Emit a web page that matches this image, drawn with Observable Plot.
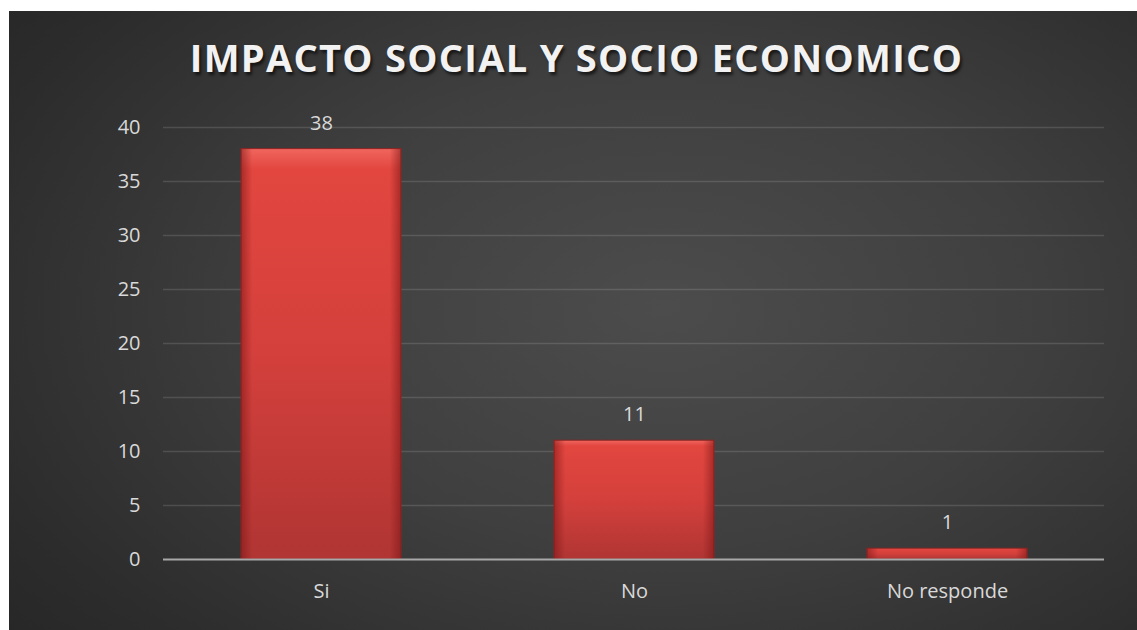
<!DOCTYPE html>
<html><head><meta charset="utf-8">
<script src="https://cdn.jsdelivr.net/npm/d3@7"></script>
<script src="https://cdn.jsdelivr.net/npm/@observablehq/plot@0.6"></script>
<style>
html,body{margin:0;padding:0;background:#fff;width:1137px;height:630px;overflow:hidden}
#frame{position:absolute;left:9px;top:11px;width:1128px;height:619px;
  background:radial-gradient(ellipse 75% 85% at 58% 48%, #4c4c4c 0%, #3f3f3f 45%, #2c2c2c 85%, #272727 100%);
  font-family:"Open Sans",sans-serif}
#title{padding-top:27px;padding-left:7px;height:38px;line-height:38px;margin-bottom:15px;text-align:center;
  font-size:38px;font-weight:700;letter-spacing:1.3px;color:#f2f2f2;text-shadow:2px 3px 3px rgba(0,0,0,0.6)}
#chart svg{display:block}
</style></head><body>
<div id="frame"><div id="title">IMPACTO SOCIAL Y SOCIO ECONOMICO</div><div id="chart"></div></div>
<script>
const categories = ["Si", "No", "No responde"];
const values = [38, 11, 1];
const yTicks = [0, 5, 10, 15, 20, 25, 30, 35, 40];

const data = categories.map((c, i) => ({category: c, value: values[i]}));

const chart = Plot.plot({
  width: 1128, height: 539,
  marginTop: 36, marginBottom: 71, marginLeft: 154, marginRight: 33,
  style: {background: "transparent", fontFamily: "'Open Sans', sans-serif", fontSize: "20px", color: "#d9d9d9"},
  x: {domain: categories, paddingInner: 0.49, paddingOuter: 0.245, label: null},
  y: {domain: [0, 40], label: null},
  marks: [
    Plot.gridY(yTicks.filter(d => d > 0), {stroke: "#ffffff", strokeOpacity: 0.13, strokeWidth: 1.5}),
    Plot.axisY(yTicks, {tickSize: 0, tickPadding: 23, fontSize: 20, fill: "#d9d9d9", label: null}),
    Plot.axisX({tickSize: 0, tickPadding: 24, fontSize: 20, fill: "#d9d9d9", label: null}),
    Plot.barY(data, {x: "category", y: "value", fill: "url(#barGradV)", stroke: "#8e2523", strokeWidth: 1}),
    Plot.barY(data, {x: "category", y: "value", fill: "url(#barGradH)"}),
    Plot.ruleY([0], {stroke: "#a8a8a8", strokeWidth: 2}),
    Plot.text(data, {x: "category", y: "value", text: d => String(d.value), dy: -26, fill: "#d9d9d9", fontSize: 20})
  ]
});

d3.select(chart).insert("defs", ":first-child").html(`
  <linearGradient id="barGradV" x1="0" y1="0" x2="0" y2="1">
    <stop offset="0" stop-color="#f0665e"/>
    <stop offset="0.05" stop-color="#e2463f"/>
    <stop offset="0.5" stop-color="#d4403c"/>
    <stop offset="1" stop-color="#b03533"/>
  </linearGradient>
  <linearGradient id="barGradH" x1="0" y1="0" x2="1" y2="0">
    <stop offset="0" stop-color="#7a1515" stop-opacity="0.55"/>
    <stop offset="0.07" stop-color="#7a1515" stop-opacity="0"/>
    <stop offset="0.93" stop-color="#7a1515" stop-opacity="0"/>
    <stop offset="1" stop-color="#7a1515" stop-opacity="0.55"/>
  </linearGradient>`);

document.getElementById("chart").appendChild(chart);
</script>
</body></html>
